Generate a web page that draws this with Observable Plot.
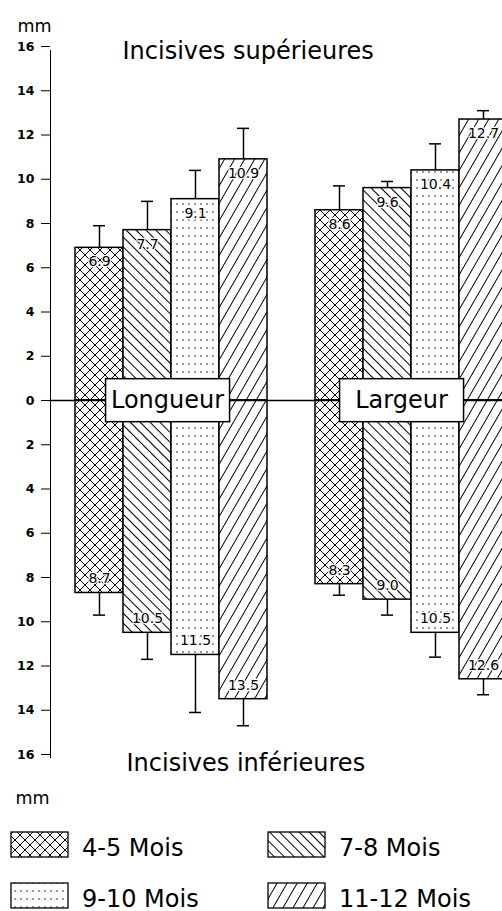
<!DOCTYPE html>
<html><head><meta charset="utf-8">
<script src="https://cdn.jsdelivr.net/npm/d3@7"></script>
<script src="https://cdn.jsdelivr.net/npm/@observablehq/plot@0.6"></script>
<style>
body{margin:0;background:#fff;font-family:"DejaVu Sans",sans-serif;overflow:hidden;}
#chart svg,#legend svg{display:block;}
#chart g[aria-label^="y-axis"] text{font-size:12.5px;font-weight:bold;}
</style></head><body>
<svg width="0" height="0" style="position:absolute">
<defs>
<pattern id="pat-cross" patternUnits="userSpaceOnUse" width="10" height="10">
  <rect width="10" height="10" fill="white"/>
  <path d="M0,0L10,10M10,0L0,10" stroke="black" stroke-width="1" stroke-linecap="square"/>
</pattern>
<pattern id="pat-back" patternUnits="userSpaceOnUse" width="7" height="7" patternTransform="rotate(-45)">
  <rect width="7" height="7" fill="white"/>
  <path d="M3.5,-1V8" stroke="black" stroke-width="1"/>
</pattern>
<pattern id="pat-dots" patternUnits="userSpaceOnUse" width="6" height="8">
  <rect width="6" height="8" fill="white"/>
  <circle cx="3" cy="4" r="0.75" fill="black"/>
</pattern>
<pattern id="pat-slash" patternUnits="userSpaceOnUse" width="8.7" height="8.7" patternTransform="rotate(30)">
  <rect width="8.7" height="8.7" fill="white"/>
  <path d="M4.35,-1V10" stroke="black" stroke-width="1"/>
</pattern>
</defs>
</svg>
<div id="chart"></div>
<div id="legend"></div>
<script>
const groups = ["Longueur", "Largeur"];
const ages = ["4-5 Mois", "7-8 Mois", "9-10 Mois", "11-12 Mois"];
const patterns = ["url(#pat-cross)", "url(#pat-back)", "url(#pat-dots)", "url(#pat-slash)"];
const longueurSup = [6.9, 7.7, 9.1, 10.9];
const longueurSupSD = [7.9, 9.0, 10.4, 12.3];
const longueurInf = [8.7, 10.5, 11.5, 13.5];
const longueurInfSD = [9.7, 11.7, 14.1, 14.7];
const largeurSup = [8.6, 9.6, 10.4, 12.7];
const largeurSupSD = [9.7, 9.9, 11.6, 13.1];
const largeurInf = [8.3, 9.0, 10.5, 12.6];
const largeurInfSD = [8.8, 9.7, 11.6, 13.3];
const yTickValues = [16, 14, 12, 10, 8, 6, 4, 2, 0, -2, -4, -6, -8, -10, -12, -14, -16];
const titleTop = "Incisives supérieures";
const titleBottom = "Incisives inférieures";
const unit = "mm";

const series = [
  [longueurSup, longueurSupSD, longueurInf, longueurInfSD],
  [largeurSup, largeurSupSD, largeurInf, largeurInfSD]
];
const rows = [];
groups.forEach((g, gi) => ages.forEach((a, i) => {
  const s = series[gi];
  rows.push({group: g, age: a, key: g + " " + a, sup: s[0][i], supSD: s[1][i], inf: s[2][i], infSD: s[3][i]});
}));
const xDomain = [...rows.filter(d => d.group === groups[0]).map(d => d.key), "gap",
                 ...rows.filter(d => d.group === groups[1]).map(d => d.key)];
const fmt = d3.format(".1f");
const keyOf = (g, a) => g + " " + a;

const chart = Plot.plot({
  width: 502, height: 815,
  marginLeft: 50, marginRight: 0, marginTop: 50, marginBottom: 58,
  style: {fontFamily: "DejaVu Sans", fontSize: "13.5px", color: "black", background: "white"},
  x: {type: "band", domain: xDomain, range: [73, 508], padding: 0, axis: null},
  y: {type: "linear", domain: [-16, 16], range: [754, 46], ticks: yTickValues, tickFormat: d => String(Math.abs(d)),
      tickSize: 9, tickPadding: 7, line: true, label: null},
  color: {domain: ages, range: patterns},
  marks: [
    Plot.barY(rows, {x: "key", y1: 0, y2: "sup", fill: "age", stroke: "black", strokeWidth: 1.5}),
    Plot.barY(rows, {x: "key", y1: 0, y2: d => -d.inf, fill: "age", stroke: "black", strokeWidth: 1.5}),
    Plot.ruleY([0], {strokeWidth: 1.5}),
    Plot.ruleX(rows, {x: "key", y1: "sup", y2: "supSD", strokeWidth: 1.5}),
    Plot.tickY(rows, {x: "key", y: "supSD", insetLeft: 18, insetRight: 18, strokeWidth: 1.5}),
    Plot.ruleX(rows, {x: "key", y1: d => -d.inf, y2: d => -d.infSD, strokeWidth: 1.5}),
    Plot.tickY(rows, {x: "key", y: d => -d.infSD, insetLeft: 18, insetRight: 18, strokeWidth: 1.5}),
    Plot.text(rows, {x: "key", y: "sup", text: d => fmt(d.sup), dy: 14, fontSize: 14,
      fill: "black", stroke: "white", strokeWidth: 2.5, paintOrder: "stroke"}),
    Plot.text(rows, {x: "key", y: d => -d.inf, text: d => fmt(d.inf), dy: -14, fontSize: 14,
      fill: "black", stroke: "white", strokeWidth: 2.5, paintOrder: "stroke"}),
    Plot.text([groups[0]], {x: () => keyOf(groups[0], ages[2]), y: () => 0, text: d => d, dx: -28, fontSize: 24}),
    Plot.text([groups[1]], {x: () => keyOf(groups[1], ages[2]), y: () => 0, text: d => d, dx: -34, fontSize: 24}),
    Plot.text([titleTop], {frameAnchor: "top-left", text: d => d, textAnchor: "start", lineAnchor: "bottom", dx: 72, dy: 8, fontSize: 24}),
    Plot.text([titleBottom], {frameAnchor: "bottom-left", text: d => d, textAnchor: "start", lineAnchor: "bottom", dx: 76, dy: 13, fontSize: 24}),
    Plot.text([unit], {frameAnchor: "top-left", text: d => d, textAnchor: "start", lineAnchor: "bottom", dx: -33, dy: -19, fontSize: 17.5}),
    Plot.text([unit], {frameAnchor: "bottom-left", text: d => d, textAnchor: "start", lineAnchor: "bottom", dx: -35, dy: 46, fontSize: 17.5})
  ]
});
document.getElementById("chart").appendChild(chart);

// boxes behind group labels (same local coordinate system as each label)
chart.querySelectorAll("text").forEach(function(t) {
  if (!groups.includes(t.textContent)) return;
  const b = t.getBBox();
  const cx = b.x + b.width / 2, cy = b.y + b.height / 2;
  const r = document.createElementNS("http://www.w3.org/2000/svg", "rect");
  r.setAttribute("x", cx - 62); r.setAttribute("y", cy - 21.5);
  r.setAttribute("width", 124); r.setAttribute("height", 43);
  r.setAttribute("fill", "white"); r.setAttribute("stroke", "black"); r.setAttribute("stroke-width", 1.5);
  const tr = t.getAttribute("transform");
  if (tr) r.setAttribute("transform", tr);
  t.parentNode.insertBefore(r, t);
});

// legend
const leg = d3.select("#legend").append("svg").attr("width", 502).attr("height", 96)
  .style("font-family", "DejaVu Sans");
const colX = [11, 268], rowY = [17, 68];
ages.forEach((a, i) => {
  const x = colX[i % 2], y = rowY[Math.floor(i / 2)];
  leg.append("rect").attr("x", x).attr("y", y).attr("width", 57).attr("height", 25)
    .attr("fill", patterns[i]).attr("stroke", "black").attr("stroke-width", 1.3);
  leg.append("text").attr("x", x + 71).attr("y", y + 24).attr("font-size", 24).text(a);
});
</script>
</body></html>
